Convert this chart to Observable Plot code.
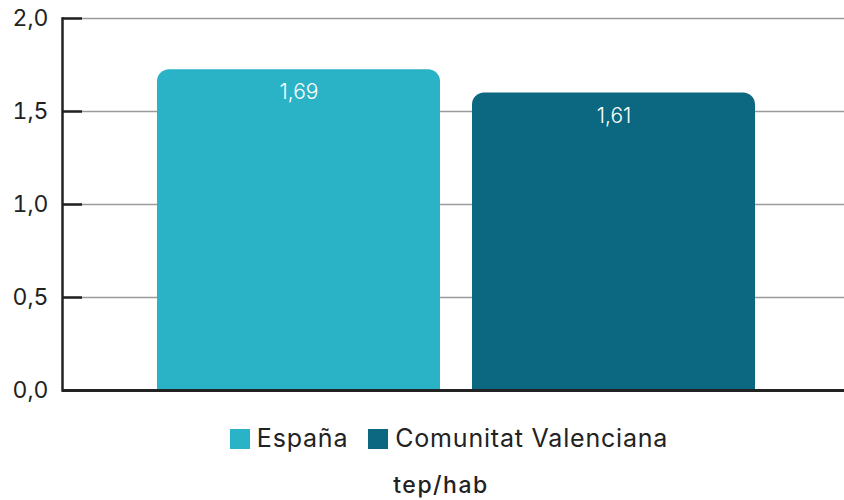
<!DOCTYPE html>
<html>
<head>
<meta charset="utf-8">
<script src="https://cdn.jsdelivr.net/npm/d3@7"></script>
<script src="https://cdn.jsdelivr.net/npm/@observablehq/plot@0.6"></script>
<style>
  body { margin: 0; background: #fff; font-family: "Inter", "Noto Sans", sans-serif; }
  #wrap { width: 844px; }
  .legend { display: flex; justify-content: center; align-items: center; gap: 20px; margin-top: 22px; padding-left: 54px; font-size: 25px; letter-spacing: 0.8px; color: #222; height: 28px; }
  .legend span.sw { display: inline-block; width: 20px; height: 20px; margin-right: 7px; vertical-align: -2px; }
  .caption { text-align: center; padding-left: 38px; margin-top: 20px; font-size: 23px; line-height: 26px; letter-spacing: 1.5px; font-weight: 500; color: #222; }
</style>
</head>
<body>
<div id="wrap"></div>
<script>
const categories = ["España", "Comunitat Valenciana"];
const values = [1.725, 1.60];
const labels = ["1,69", "1,61"];
const colors = ["#2AB3C7", "#0C6880"];
const yTicks = [0, 0.5, 1.0, 1.5, 2.0];
const unit = "tep/hab";

const data = categories.map((c, i) => ({cat: c, value: values[i], label: labels[i]}));
const fmt = d => d.toFixed(1).replace(".", ",");

const chart = Plot.plot({
  width: 844,
  height: 402,
  marginLeft: 62,
  marginRight: 0,
  marginTop: 18,
  marginBottom: 12,
  style: {fontFamily: "Inter, 'Noto Sans', sans-serif", fontSize: "23px", color: "#222", overflow: "visible"},
  x: {domain: categories, range: [157, 756], paddingInner: 0.1013, paddingOuter: 0, axis: null},
  y: {domain: [0, 2], ticks: yTicks, axis: null},
  color: {domain: categories, range: colors},
  marks: [
    Plot.ruleY(yTicks.filter(d => d > 0), {stroke: "#9a9a9a", strokeWidth: 1.5}),
    Plot.barY(data, {x: "cat", y: "value", fill: "cat", rx: 12}),
    Plot.barY(data, {x: "cat", y: d => d.value / 2, fill: "cat"}),
    Plot.text(data, {x: "cat", y: "value", text: "label", fill: "white", dy: 23, fontSize: 21, fontWeight: 300}),
    Plot.axisY({ticks: yTicks, tickSize: -20, text: null, label: null, stroke: "#222", strokeWidth: 2.5}),
    Plot.axisY({ticks: yTicks, tickSize: 0, tickPadding: 14, tickFormat: fmt, label: null, fontSize: 23, fill: "#222"}),
    Plot.ruleY([0], {stroke: "#222", strokeWidth: 3}),
    Plot.frame({anchor: "left", stroke: "#222", strokeWidth: 2.5})
  ]
});

const wrap = document.getElementById("wrap");
wrap.appendChild(chart);
const legend = document.createElement("div");
legend.className = "legend";
categories.forEach((c, i) => {
  const item = document.createElement("div");
  item.innerHTML = `<span class="sw" style="background:${colors[i]}"></span>${c}`;
  legend.appendChild(item);
});
wrap.appendChild(legend);
const cap = document.createElement("div");
cap.className = "caption";
cap.textContent = unit;
wrap.appendChild(cap);
</script>
</body>
</html>
